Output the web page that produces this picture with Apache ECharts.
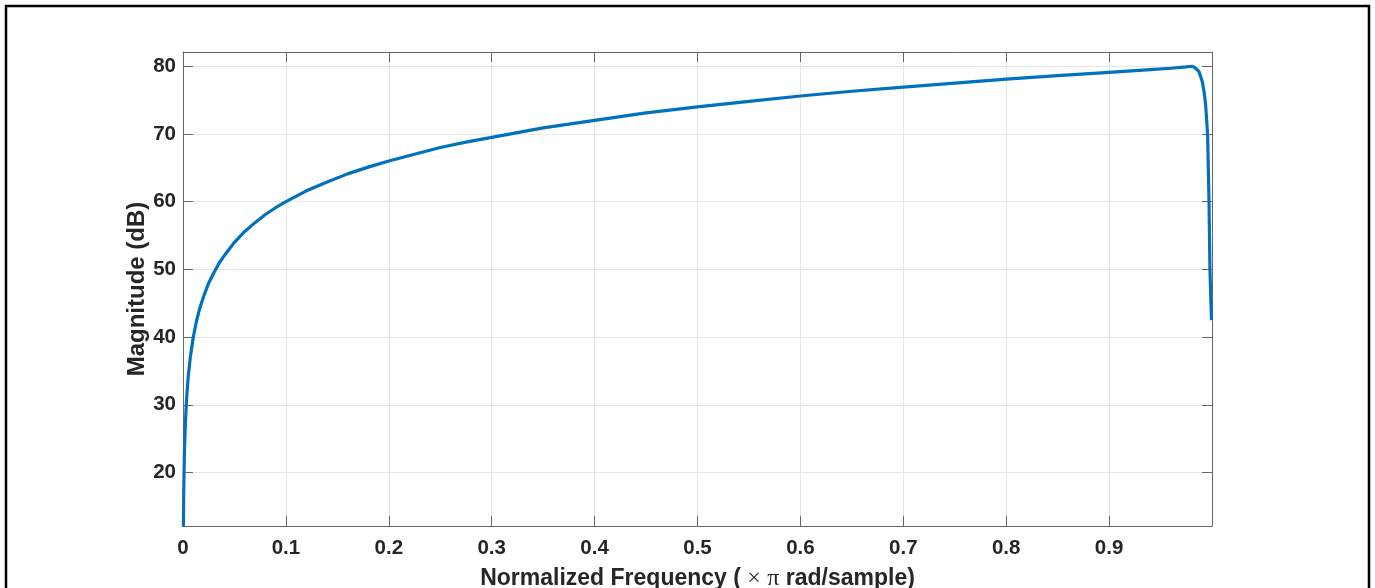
<!DOCTYPE html>
<html>
<head>
<meta charset="utf-8">
<script src="https://cdn.jsdelivr.net/npm/echarts@6/dist/echarts.min.js"></script>
<style>
  html, body { margin: 0; padding: 0; background: #ffffff; }
  #chart { width: 1375px; height: 588px; }
</style>
</head>
<body>
<div id="chart"></div>
<script>
// Normalized frequency (x pi rad/sample)
const freq = [
  0.0004, 0.0007, 0.001, 0.0015, 0.002, 0.003, 0.004, 0.005, 0.007, 0.01,
  0.013, 0.016, 0.02, 0.025, 0.03, 0.035, 0.04, 0.05, 0.06, 0.07,
  0.08, 0.09, 0.1, 0.12, 0.14, 0.16, 0.18, 0.2, 0.225, 0.25,
  0.275, 0.3, 0.35, 0.4, 0.45, 0.5, 0.55, 0.6, 0.65, 0.7,
  0.75, 0.8, 0.85, 0.9, 0.94, 0.96, 0.975, 0.981, 0.984, 0.9874,
  0.9906, 0.9925, 0.9938, 0.9957, 0.9971, 0.998, 0.9995
];
// Magnitude (dB)
const magnitude = [
  12.0, 16.9, 20.0, 23.5, 26.0, 29.5, 32.0, 34.0, 36.9, 40.0,
  42.3, 44.1, 46.0, 48.0, 49.5, 50.9, 52.0, 54.0, 55.6, 56.9,
  58.1, 59.1, 60.0, 61.6, 62.9, 64.1, 65.1, 66.0, 67.0, 68.0,
  68.8, 69.5, 70.9, 72.0, 73.1, 74.0, 74.8, 75.6, 76.3, 76.9,
  77.5, 78.1, 78.6, 79.1, 79.5, 79.7, 79.9, 80.0, 79.7, 79.2,
  77.7, 76.0, 74.3, 70.0, 60.0, 50.0, 42.5
];
const yTicks = [20, 30, 40, 50, 60, 70, 80];
const xLabel = 'Normalized Frequency';
const yLabel = 'Magnitude (dB)';

const points = freq.map((f, i) => [f, magnitude[i]]);

const FONT = "'Liberation Sans', Arial, sans-serif";
const TXT = '#262626';
const AX = '#666666';
const GRIDC = '#e6e6e6';

const chart = echarts.init(document.getElementById('chart'), null, { renderer: 'canvas' });

const xCommon = {
  type: 'value', min: 0, max: 1, interval: 0.1,
  axisLine: { show: true, onZero: false, lineStyle: { color: AX, width: 1 } },
  axisTick: { show: true, inside: true, length: 10, lineStyle: { color: AX, width: 1 } }
};
const yCommon = {
  type: 'value', min: 12.1, max: 82.1,
  axisLine: { show: true, onZero: false, lineStyle: { color: AX, width: 1 } },
  axisTick: { show: true, inside: true, length: 10, customValues: yTicks, lineStyle: { color: AX, width: 1 } }
};

chart.setOption({
  animation: false,
  backgroundColor: '#ffffff',
  grid: { left: 183, top: 52, right: 163, bottom: 62, containLabel: false, outerBoundsMode: 'none' },
  graphic: [{
    type: 'rect',
    shape: { x: 6, y: 6, width: 1363, height: 620 },
    style: { fill: 'none', stroke: '#000000', lineWidth: 2.5 },
    z: 100
  }],
  xAxis: [
    Object.assign({}, xCommon, {
      position: 'bottom',
      name: '{a|' + xLabel + ' ( }{b|×}{a| }{b|π}{a| rad/sample)}',
      nameLocation: 'middle',
      nameGap: 41,
      nameMoveOverlap: false,
      nameTextStyle: {
        rich: {
          a: { fontFamily: FONT, fontWeight: 'bold', fontSize: 23, color: TXT },
          b: { fontFamily: "'Liberation Serif', 'DejaVu Serif', serif", fontWeight: 'normal', fontSize: 24, color: TXT }
        }
      },
      axisLabel: {
        show: true, margin: 12, fontFamily: FONT, fontWeight: 'bold', fontSize: 20.5, color: TXT,
        formatter: function (v) { return v > 0.999 ? '' : String(Math.round(v * 10) / 10); }
      },
      splitLine: { show: true, lineStyle: { color: GRIDC, width: 1 } }
    }),
    Object.assign({}, xCommon, {
      position: 'top',
      axisLabel: { show: false },
      splitLine: { show: false }
    })
  ],
  yAxis: [
    Object.assign({}, yCommon, {
      position: 'left',
      name: yLabel,
      nameLocation: 'middle',
      nameGap: 34,
      nameRotate: 90,
      nameMoveOverlap: false,
      nameTextStyle: { fontFamily: FONT, fontWeight: 'bold', fontSize: 24, color: TXT },
      axisLabel: {
        show: true, margin: 7, fontFamily: FONT, fontWeight: 'bold', fontSize: 20.5, color: TXT,
        customValues: yTicks
      },
      splitLine: { show: true, lineStyle: { color: GRIDC, width: 1 } }
    }),
    Object.assign({}, yCommon, {
      position: 'right',
      axisLabel: { show: false },
      splitLine: { show: false }
    })
  ],
  series: [{
    type: 'line',
    xAxisIndex: 0,
    yAxisIndex: 0,
    data: points,
    showSymbol: false,
    symbol: 'none',
    smooth: false,
    clip: true,
    lineStyle: { color: '#0072BD', width: 3.2 },
    z: 5
  }]
});
</script>
</body>
</html>
